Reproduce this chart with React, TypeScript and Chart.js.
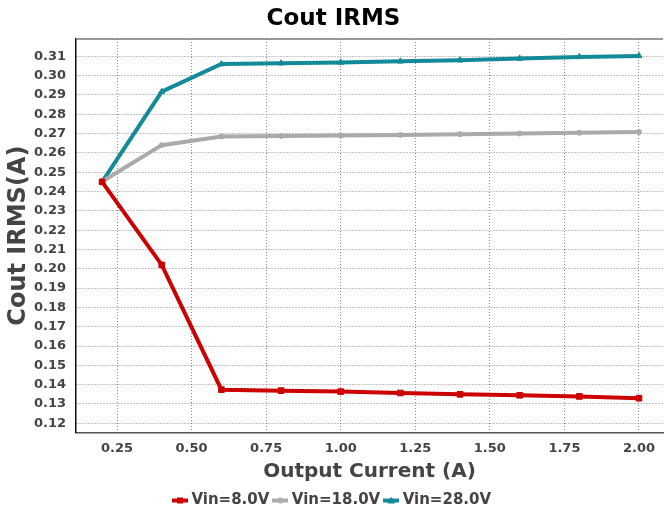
import React, { useEffect, useRef } from "react";
import { Chart, registerables } from "chart.js";

Chart.register(...registerables);

const currents = [0.2, 0.4, 0.6, 0.8, 1.0, 1.2, 1.4, 1.6, 1.8, 2.0];
const vin8 = [0.245, 0.202, 0.1374, 0.1369, 0.1364, 0.1357, 0.135, 0.1345, 0.1339, 0.133];
const vin18 = [0.2452, 0.264, 0.2685, 0.2688, 0.269, 0.2693, 0.2697, 0.27, 0.2704, 0.2708];
const vin28 = [0.245, 0.2917, 0.306, 0.3064, 0.3068, 0.3074, 0.308, 0.3089, 0.3097, 0.3102];
const seriesNames = ["Vin=8.0V", "Vin=18.0V", "Vin=28.0V"];
const xTicks = [0.25, 0.5, 0.75, 1.0, 1.25, 1.5, 1.75, 2.0];
const yTicks = [0.12, 0.13, 0.14, 0.15, 0.16, 0.17, 0.18, 0.19, 0.2, 0.21, 0.22, 0.23, 0.24, 0.25, 0.26, 0.27, 0.28, 0.29, 0.3, 0.31];

const RED = "#cc0000";
const GRAY = "#aaaaaa";
const TEAL = "#138a99";
const FONT = "'DejaVu Sans', sans-serif";

function legendIcon(color: string, style: string): HTMLCanvasElement {
  const c = document.createElement("canvas");
  c.width = 16;
  c.height = 8;
  const ctx = c.getContext("2d")!;
  ctx.strokeStyle = color;
  ctx.fillStyle = color;
  ctx.lineWidth = 4;
  ctx.beginPath();
  ctx.moveTo(0, 4);
  ctx.lineTo(16, 4);
  ctx.stroke();
  ctx.beginPath();
  if (style === "rect") {
    ctx.rect(5, 1, 6, 6);
  } else if (style === "circle") {
    ctx.arc(8, 4, 3, 0, Math.PI * 2);
  } else {
    ctx.moveTo(8, 0);
    ctx.lineTo(12, 7);
    ctx.lineTo(4, 7);
    ctx.closePath();
  }
  ctx.fill();
  return c;
}

const topBorder = {
  id: "topBorder",
  afterDraw(chart: any) {
    const { ctx, chartArea } = chart;
    ctx.save();
    ctx.strokeStyle = "#777777";
    ctx.lineWidth = 1.5;
    ctx.beginPath();
    ctx.moveTo(chartArea.left, chartArea.top);
    ctx.lineTo(chartArea.right, chartArea.top);
    ctx.stroke();
    ctx.restore();
  },
};

export default function App() {
  const ref = useRef<HTMLCanvasElement>(null);

  useEffect(() => {
    document.body.style.margin = "0";
    const colors = [RED, GRAY, TEAL];
    const styles = ["rect", "circle", "triangle"];
    const radii = [4, 2.5, 3.5];
    const values = [vin8, vin18, vin28];
    const icons = colors.map((c, i) => legendIcon(c, styles[i]));
    const chart = new Chart(ref.current!, {
      type: "line",
      data: {
        datasets: values.map((vals, i) => ({
          label: seriesNames[i],
          data: vals.map((v, j) => ({ x: currents[j], y: v })),
          borderColor: colors[i],
          backgroundColor: colors[i],
          borderWidth: 4,
          pointStyle: styles[i] as any,
          pointRadius: radii[i],
          pointBorderWidth: 1,
          pointBorderColor: colors[i],
          pointBackgroundColor: colors[i],
          tension: 0,
          fill: false,
        })),
      },
      options: {
        animation: false,
        responsive: false,
        layout: { autoPadding: false, padding: { left: 4, right: 1, top: 0, bottom: -3 } },
        plugins: {
          title: {
            display: true,
            text: "Cout IRMS",
            color: "#000000",
            font: { family: FONT, size: 23, weight: "bold" },
            padding: { top: 5, bottom: 6.4 },
          },
          legend: {
            position: "bottom",
            labels: {
              usePointStyle: true,
              pointStyleWidth: 8,
              padding: 7,
              color: "#444444",
              font: { family: FONT, size: 15, weight: "bold" },
              generateLabels: (ch: any) =>
                ch.data.datasets.map((d: any, i: number) => ({
                  text: d.label,
                  pointStyle: icons[i],
                  fillStyle: colors[i],
                  strokeStyle: colors[i],
                  lineWidth: 0,
                  hidden: false,
                  datasetIndex: i,
                  fontColor: "#444444",
                })),
            },
          },
          tooltip: { enabled: false },
        },
        scales: {
          x: {
            type: "linear",
            min: 0.1125,
            max: 2.0805,
            afterBuildTicks: (s: any) => {
              s.ticks = xTicks.map((v) => ({ value: v }));
            },
            afterFit: (s: any) => {
              s.height = 53.7;
              s.paddingLeft = 0;
              s.paddingRight = 0;
            },
            ticks: {
              padding: 9,
              color: "#444444",
              font: { family: FONT, size: 13, weight: "bold" },
              maxRotation: 0,
              callback: (v: any) => Number(v).toFixed(2),
            },
            grid: {
              color: "#888888",
              lineWidth: 1,
              drawTicks: false,
            },
            border: { display: true, color: "#555555", width: 1.5, dash: [1, 2] },
            title: {
              display: true,
              text: "Output Current (A)",
              color: "#444444",
              font: { family: FONT, size: 20, weight: "bold" },
              padding: { top: 0, bottom: 2 },
            },
          },
          y: {
            type: "linear",
            min: 0.11534,
            max: 0.31896,
            afterBuildTicks: (s: any) => {
              s.ticks = yTicks.map((v) => ({ value: v }));
            },
            afterFit: (s: any) => {
              s.width = 72;
              s.paddingTop = 0;
              s.paddingBottom = 0;
            },
            ticks: {
              padding: 10,
              color: "#444444",
              font: { family: FONT, size: 13, weight: "bold" },
              callback: (v: any) => Number(v).toFixed(2),
            },
            grid: {
              color: "#888888",
              lineWidth: 1,
              drawTicks: false,
            },
            border: { display: true, color: "#111111", width: 1.5, dash: [1, 2] },
            title: {
              display: true,
              text: "Cout IRMS(A)",
              color: "#444444",
              font: { family: FONT, size: 24, weight: "bold" },
              padding: { top: 0, bottom: 0 },
            },
          },
        },
      },
      plugins: [topBorder],
    });
    return () => chart.destroy();
  }, []);

  return (
    <div style={{ width: 664, height: 515 }}>
      <canvas ref={ref} width={664} height={515} />
    </div>
  );
}
